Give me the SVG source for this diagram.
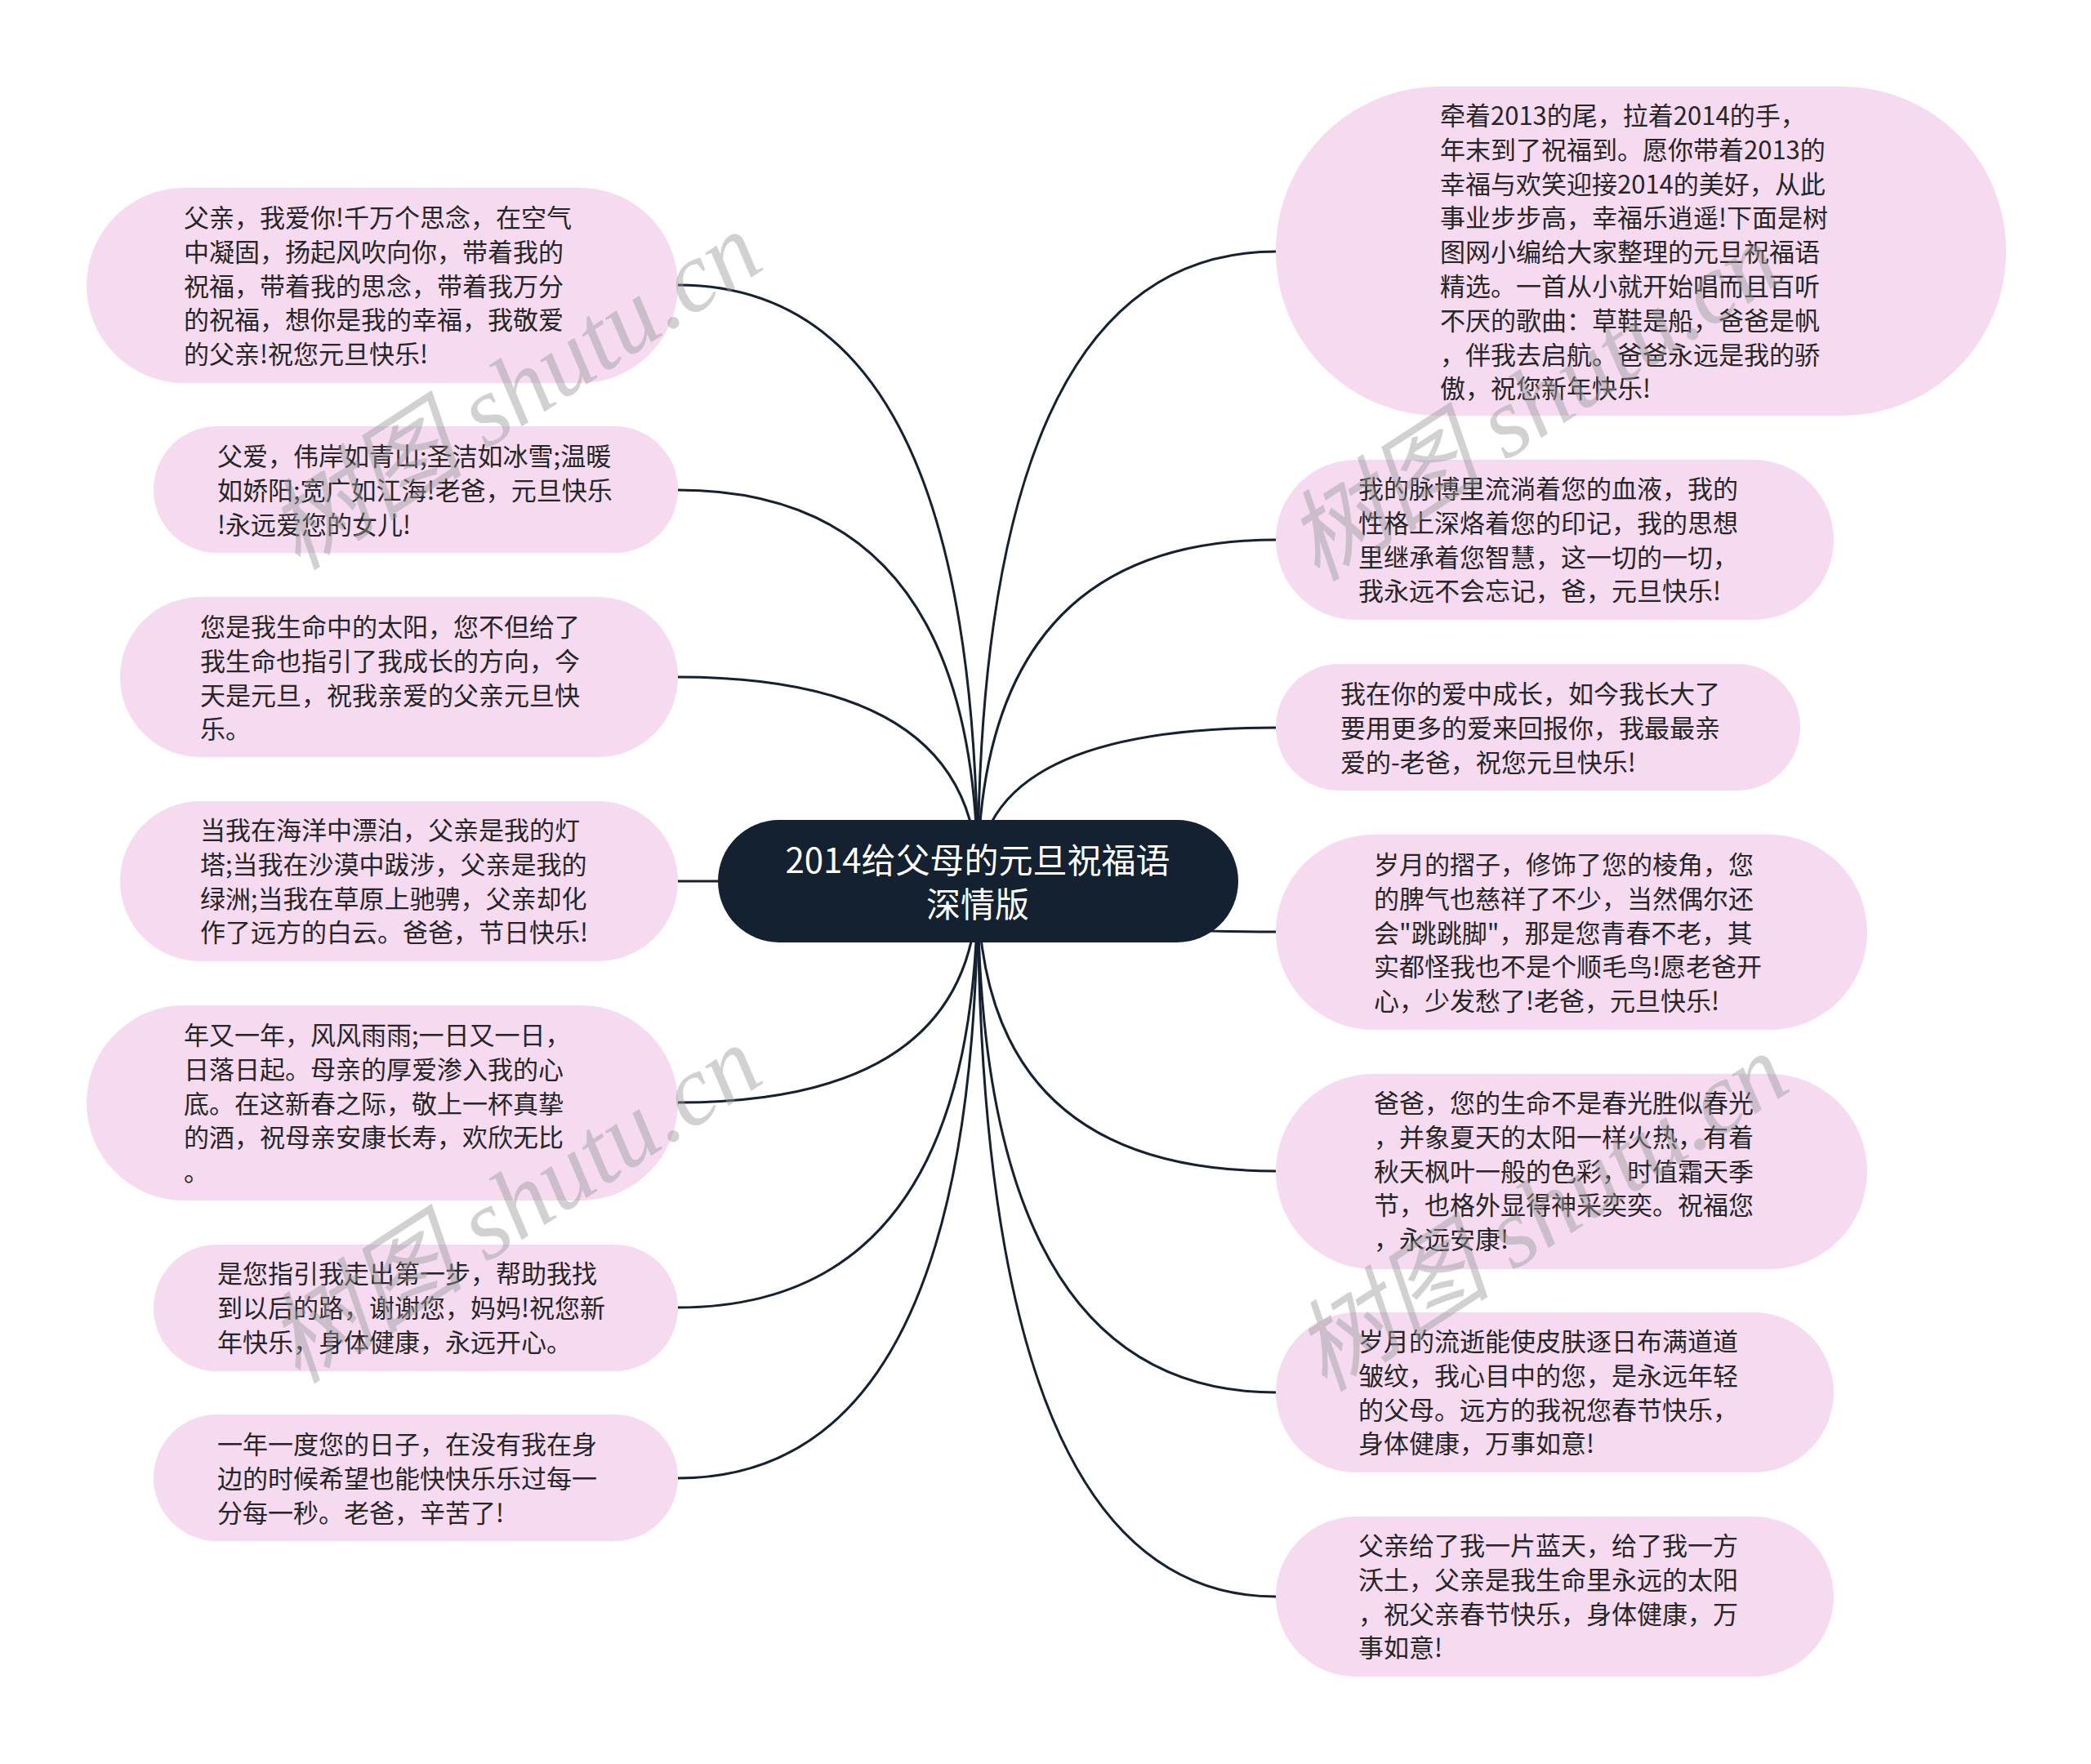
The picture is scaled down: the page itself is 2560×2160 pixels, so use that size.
<svg xmlns="http://www.w3.org/2000/svg" width="2560" height="2160" viewBox="0 0 2560 2160">
<style>
.bg{fill:#ffffff}
.leaf{fill:#f5daf0}
.root{fill:#142131}
.t{font-family:"Noto Sans CJK SC","Noto Sans",sans-serif;font-size:31px;fill:#262626}
.rt{font-family:"Noto Sans CJK SC","Noto Sans",sans-serif;font-size:42px;fill:#ffffff;text-anchor:middle}
.edge{fill:none;stroke:#142131;stroke-width:3}
.wm{font-family:"Liberation Serif","Noto Sans CJK SC",serif;font-style:italic;font-size:122px;fill:#9a9a9a;fill-opacity:0.45}
</style>
<rect class="bg" x="0" y="0" width="2560" height="2160"/>
<g id="connectors">
<path class="edge" d="M1197 1079 Q1197 349 830 349"/>
<path class="edge" d="M1197 1079 Q1197 600 830 600"/>
<path class="edge" d="M1197 1079 Q1197 829 830 829"/>
<path class="edge" d="M1197 1079 Q1197 1079 830 1079"/>
<path class="edge" d="M1197 1079 Q1197 1350 830 1350"/>
<path class="edge" d="M1197 1079 Q1197 1601 830 1601"/>
<path class="edge" d="M1197 1079 Q1197 1810 830 1810"/>
<path class="edge" d="M1197 1079 Q1197 308 1562 308"/>
<path class="edge" d="M1197 1079 Q1197 661 1562 661"/>
<path class="edge" d="M1197 1079 Q1197 891 1562 891"/>
<path class="edge" d="M1197 1079 Q1197 1141 1562 1141"/>
<path class="edge" d="M1197 1079 Q1197 1434 1562 1434"/>
<path class="edge" d="M1197 1079 Q1197 1705 1562 1705"/>
<path class="edge" d="M1197 1079 Q1197 1955 1562 1955"/>
</g>
<g id="root">
<rect class="root" x="879" y="1004" width="637" height="150" rx="75"/>
<text class="rt" x="1197" y="1069">2014给父母的元旦祝福语</text>
<text class="rt" x="1197" y="1123">深情版</text>
</g>
<g id="L1">
<rect class="leaf" x="106" y="230" width="724" height="239" rx="119.5"/>
<text class="t" x="225" y="278"><tspan x="225">父亲，我爱你!千万个思念，在空气</tspan><tspan x="225" dy="41.8">中凝固，扬起风吹向你，带着我的</tspan><tspan x="225" dy="41.8">祝福，带着我的思念，带着我万分</tspan><tspan x="225" dy="41.8">的祝福，想你是我的幸福，我敬爱</tspan><tspan x="225" dy="41.8">的父亲!祝您元旦快乐!</tspan></text>
</g>
<g id="L2">
<rect class="leaf" x="188" y="522" width="642" height="155" rx="77.5"/>
<text class="t" x="266" y="570"><tspan x="266">父爱，伟岸如青山;圣洁如冰雪;温暖</tspan><tspan x="266" dy="41.8">如娇阳;宽广如江海!老爸，元旦快乐</tspan><tspan x="266" dy="41.8">!永远爱您的女儿!</tspan></text>
</g>
<g id="L3">
<rect class="leaf" x="147" y="731" width="683" height="196" rx="98"/>
<text class="t" x="245" y="779"><tspan x="245">您是我生命中的太阳，您不但给了</tspan><tspan x="245" dy="41.8">我生命也指引了我成长的方向，今</tspan><tspan x="245" dy="41.8">天是元旦，祝我亲爱的父亲元旦快</tspan><tspan x="245" dy="41.8">乐。</tspan></text>
</g>
<g id="L4">
<rect class="leaf" x="147" y="981" width="683" height="196" rx="98"/>
<text class="t" x="245" y="1028"><tspan x="245">当我在海洋中漂泊，父亲是我的灯</tspan><tspan x="245" dy="41.8">塔;当我在沙漠中跋涉，父亲是我的</tspan><tspan x="245" dy="41.8">绿洲;当我在草原上驰骋，父亲却化</tspan><tspan x="245" dy="41.8">作了远方的白云。爸爸，节日快乐!</tspan></text>
</g>
<g id="L5">
<rect class="leaf" x="106" y="1231" width="724" height="239" rx="119.5"/>
<text class="t" x="225" y="1279"><tspan x="225">年又一年，风风雨雨;一日又一日，</tspan><tspan x="225" dy="41.8">日落日起。母亲的厚爱渗入我的心</tspan><tspan x="225" dy="41.8">底。在这新春之际，敬上一杯真挚</tspan><tspan x="225" dy="41.8">的酒，祝母亲安康长寿，欢欣无比</tspan><tspan x="225" dy="41.8">。</tspan></text>
</g>
<g id="L6">
<rect class="leaf" x="188" y="1524" width="642" height="155" rx="77.5"/>
<text class="t" x="266" y="1571"><tspan x="266">是您指引我走出第一步，帮助我找</tspan><tspan x="266" dy="41.8">到以后的路，谢谢您，妈妈!祝您新</tspan><tspan x="266" dy="41.8">年快乐，身体健康，永远开心。</tspan></text>
</g>
<g id="L7">
<rect class="leaf" x="188" y="1732" width="642" height="155" rx="77.5"/>
<text class="t" x="266" y="1780"><tspan x="266">一年一度您的日子，在没有我在身</tspan><tspan x="266" dy="41.8">边的时候希望也能快快乐乐过每一</tspan><tspan x="266" dy="41.8">分每一秒。老爸，辛苦了!</tspan></text>
</g>
<g id="R1">
<rect class="leaf" x="1562" y="106" width="894" height="403" rx="201"/>
<text class="t" x="1763" y="153"><tspan x="1763">牵着2013的尾，拉着2014的手，</tspan><tspan x="1763" dy="41.8">年末到了祝福到。愿你带着2013的</tspan><tspan x="1763" dy="41.8">幸福与欢笑迎接2014的美好，从此</tspan><tspan x="1763" dy="41.8">事业步步高，幸福乐逍遥!下面是树</tspan><tspan x="1763" dy="41.8">图网小编给大家整理的元旦祝福语</tspan><tspan x="1763" dy="41.8">精选。一首从小就开始唱而且百听</tspan><tspan x="1763" dy="41.8">不厌的歌曲：草鞋是船，爸爸是帆</tspan><tspan x="1763" dy="41.8">，伴我去启航。爸爸永远是我的骄</tspan><tspan x="1763" dy="41.8">傲，祝您新年快乐!</tspan></text>
</g>
<g id="R2">
<rect class="leaf" x="1562" y="563" width="683" height="196" rx="98"/>
<text class="t" x="1663" y="610"><tspan x="1663">我的脉博里流淌着您的血液，我的</tspan><tspan x="1663" dy="41.8">性格上深烙着您的印记，我的思想</tspan><tspan x="1663" dy="41.8">里继承着您智慧，这一切的一切，</tspan><tspan x="1663" dy="41.8">我永远不会忘记，爸，元旦快乐!</tspan></text>
</g>
<g id="R3">
<rect class="leaf" x="1562" y="813" width="642" height="155" rx="77.5"/>
<text class="t" x="1641" y="861"><tspan x="1641">我在你的爱中成长，如今我长大了</tspan><tspan x="1641" dy="41.8">要用更多的爱来回报你，我最最亲</tspan><tspan x="1641" dy="41.8">爱的-老爸，祝您元旦快乐!</tspan></text>
</g>
<g id="R4">
<rect class="leaf" x="1562" y="1022" width="724" height="239" rx="119.5"/>
<text class="t" x="1682" y="1070"><tspan x="1682">岁月的摺子，修饰了您的棱角，您</tspan><tspan x="1682" dy="41.8">的脾气也慈祥了不少，当然偶尔还</tspan><tspan x="1682" dy="41.8">会"跳跳脚"，那是您青春不老，其</tspan><tspan x="1682" dy="41.8">实都怪我也不是个顺毛鸟!愿老爸开</tspan><tspan x="1682" dy="41.8">心，少发愁了!老爸，元旦快乐!</tspan></text>
</g>
<g id="R5">
<rect class="leaf" x="1562" y="1315" width="724" height="239" rx="119.5"/>
<text class="t" x="1682" y="1362"><tspan x="1682">爸爸，您的生命不是春光胜似春光</tspan><tspan x="1682" dy="41.8">，并象夏天的太阳一样火热，有着</tspan><tspan x="1682" dy="41.8">秋天枫叶一般的色彩，时值霜天季</tspan><tspan x="1682" dy="41.8">节，也格外显得神采奕奕。祝福您</tspan><tspan x="1682" dy="41.8">，永远安康!</tspan></text>
</g>
<g id="R6">
<rect class="leaf" x="1562" y="1607" width="683" height="196" rx="98"/>
<text class="t" x="1663" y="1654"><tspan x="1663">岁月的流逝能使皮肤逐日布满道道</tspan><tspan x="1663" dy="41.8">皱纹，我心目中的您，是永远年轻</tspan><tspan x="1663" dy="41.8">的父母。远方的我祝您春节快乐，</tspan><tspan x="1663" dy="41.8">身体健康，万事如意!</tspan></text>
</g>
<g id="R7">
<rect class="leaf" x="1562" y="1857" width="683" height="196" rx="98"/>
<text class="t" x="1663" y="1904"><tspan x="1663">父亲给了我一片蓝天，给了我一方</tspan><tspan x="1663" dy="41.8">沃土，父亲是我生命里永远的太阳</tspan><tspan x="1663" dy="41.8">，祝父亲春节快乐，身体健康，万</tspan><tspan x="1663" dy="41.8">事如意!</tspan></text>
</g>
<g id="watermarks">
<text class="wm" transform="translate(365 700) rotate(-33)">树图 shutu.cn</text>
<text class="wm" transform="translate(365 1696) rotate(-33)">树图 shutu.cn</text>
<text class="wm" transform="translate(1613 714) rotate(-33)">树图 shutu.cn</text>
<text class="wm" transform="translate(1622 1706) rotate(-33)">树图 shutu.cn</text>
</g>
</svg>
